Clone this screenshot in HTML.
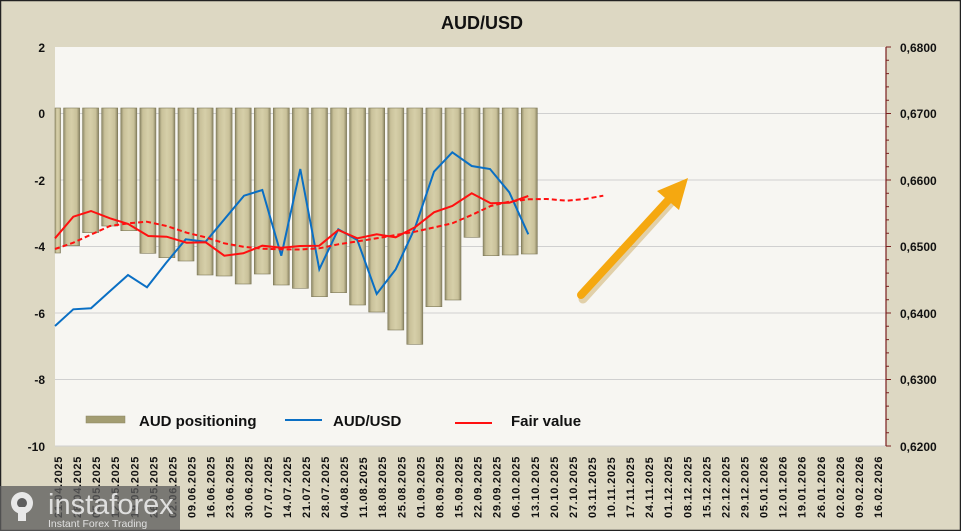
<!DOCTYPE html>
<html><head><meta charset="utf-8"><style>
html,body{margin:0;padding:0;background:#ddd8c3;}
svg{display:block;font-family:"Liberation Sans",sans-serif;}
</style></head><body>
<svg width="961" height="531" viewBox="0 0 961 531" xmlns="http://www.w3.org/2000/svg">
<defs>
<linearGradient id="bg" x1="0" x2="1" y1="0" y2="0">
<stop offset="0" stop-color="#8f8a68"/><stop offset="0.18" stop-color="#c9c19a"/><stop offset="0.5" stop-color="#d6cfa9"/><stop offset="0.82" stop-color="#c9c19a"/><stop offset="1" stop-color="#8a8463"/>
</linearGradient>
</defs>
<rect x="0" y="0" width="961" height="531" fill="#ddd8c3"/>
<rect x="0.5" y="0.5" width="960" height="530" fill="none" stroke="#222" stroke-width="1.5"/>
<text x="482" y="29" text-anchor="middle" font-size="18" font-weight="bold" fill="#111">AUD/USD</text>
<rect x="55" y="47" width="831" height="399" fill="#f7f6f2"/>
<g stroke="#d0d0d0" stroke-width="1">
<line x1="55" x2="886" y1="113.5" y2="113.5"/><line x1="55" x2="886" y1="180" y2="180"/><line x1="55" x2="886" y1="246.5" y2="246.5"/><line x1="55" x2="886" y1="313" y2="313"/><line x1="55" x2="886" y1="379.5" y2="379.5"/><line x1="55" x2="886" y1="446" y2="446"/>
</g>
<g font-size="12" font-weight="bold" fill="#111" text-anchor="end">
<text x="45" y="52">2</text><text x="45" y="118">0</text><text x="45" y="185">-2</text><text x="45" y="251">-4</text><text x="45" y="318">-6</text><text x="45" y="384">-8</text><text x="45" y="451">-10</text>
</g>
<g font-size="12" font-weight="bold" fill="#111">
<text x="900" y="52">0,6800</text><text x="900" y="118">0,6700</text><text x="900" y="185">0,6600</text><text x="900" y="251">0,6500</text><text x="900" y="318">0,6400</text><text x="900" y="384">0,6300</text><text x="900" y="451">0,6200</text>
</g>
<line x1="886" x2="886" y1="47" y2="446" stroke="#7a1f1f" stroke-width="1.2"/>
<path stroke="#7a1f1f" stroke-width="1" d="M886 47h5M886 60.3h3M886 73.6h3M886 86.9h3M886 100.2h3M886 113.5h5M886 126.8h3M886 140.1h3M886 153.4h3M886 166.7h3M886 180h5M886 193.3h3M886 206.6h3M886 219.9h3M886 233.2h3M886 246.5h5M886 259.8h3M886 273.1h3M886 286.4h3M886 299.7h3M886 313h5M886 326.3h3M886 339.6h3M886 352.9h3M886 366.2h3M886 379.5h5M886 392.8h3M886 406.1h3M886 419.4h3M886 432.7h3M886 446h5"/>
<g fill="url(#bg)" stroke="#7d7858" stroke-width="0.6">
<rect x="55" y="108" width="5.5" height="145"/>
<rect x="63.6" y="108" width="16" height="137.7"/>
<rect x="82.6" y="108" width="16" height="124.7"/>
<rect x="101.7" y="108" width="16" height="118"/>
<rect x="120.8" y="108" width="16" height="122.7"/>
<rect x="139.9" y="108" width="16" height="145.3"/>
<rect x="158.9" y="108" width="16" height="149.7"/>
<rect x="178" y="108" width="16" height="153"/>
<rect x="197.1" y="108" width="16" height="167"/>
<rect x="216.1" y="108" width="16" height="168"/>
<rect x="235.2" y="108" width="16" height="176"/>
<rect x="254.3" y="108" width="16" height="166"/>
<rect x="273.3" y="108" width="16" height="177"/>
<rect x="292.4" y="108" width="16" height="180.3"/>
<rect x="311.5" y="108" width="16" height="188.7"/>
<rect x="330.6" y="108" width="16" height="184.7"/>
<rect x="349.6" y="108" width="16" height="197"/>
<rect x="368.7" y="108" width="16" height="204"/>
<rect x="387.8" y="108" width="16" height="222"/>
<rect x="406.8" y="108" width="16" height="236.3"/>
<rect x="425.9" y="108" width="16" height="198.7"/>
<rect x="445" y="108" width="16" height="192"/>
<rect x="464" y="108" width="16" height="129.3"/>
<rect x="483.1" y="108" width="16" height="147.7"/>
<rect x="502.2" y="108" width="16" height="147"/>
<rect x="521.3" y="108" width="16" height="146"/>
</g>
<polyline fill="none" stroke="#0a6fc4" stroke-width="2" points="55,326 73.3,309.3 91,308.3 109,292 128,275 147,287.3 166,263 185.7,239.3 205.7,241.7 244,195.7 262.3,190 281.3,255.7 300.3,169 319.3,269.3 338.3,229.3 357.3,240 376.7,294 395.7,269.3 415,227.7 434,171.7 452.3,152.3 471.7,166 490,169 509.3,192.3 528.3,234.3"/>
<polyline fill="none" stroke="#ff1010" stroke-width="2" stroke-dasharray="5,3" points="55,249 73.3,242.7 91.7,234.3 110,226 128.3,223.3 146.7,221.7 166.7,226 186.7,232.7 205.7,237.3 224.3,243.3 243.3,246.7 262.3,248.7 281.3,249.3 300.3,249.5 319.3,248.3 338.3,244.3 376.7,238.3 415,231.7 452.3,223.3 471.7,215 490.7,206 509.3,201.7 528.3,199.3 546.7,199 566.7,200.7 585,199 603.3,195.7"/>
<polyline fill="none" stroke="#ff1010" stroke-width="2" points="55,238.3 73.3,216.7 91,211 110,218.3 128.3,224 148.3,236 166.7,236.7 186.7,242.7 205.7,242.3 224.3,255.7 243.3,253.3 262.3,245.7 281.3,247.7 300.3,246 319.3,245.7 338.3,230 357.3,238.3 376.7,234.3 395.7,237.3 415,227.3 434,212.3 452.3,206 471.7,193.3 490.7,203.3 509.3,202.7 528.3,196"/>
<g>
<line x1="581" y1="297" x2="671" y2="198" stroke="#b07800" stroke-opacity="0.3" stroke-width="9" stroke-linecap="round" transform="translate(2,2)"/>
<line x1="581" y1="295" x2="672" y2="196" stroke="#f5a810" stroke-width="8" stroke-linecap="round"/>
<polygon points="688,178 657,191 679,210" fill="#f5a810"/>
</g>
<rect x="86" y="416" width="39" height="7" fill="#a39d72" stroke="#8a8463" stroke-width="0.5"/>
<line x1="285" x2="322" y1="420" y2="420" stroke="#0a6fc4" stroke-width="2"/>
<line x1="455" x2="492" y1="423" y2="423" stroke="#ff1010" stroke-width="2"/>
<g font-size="15" font-weight="bold" fill="#111">
<text x="139" y="426">AUD positioning</text><text x="333" y="426">AUD/USD</text><text x="511" y="426">Fair value</text>
</g>
<g font-size="11" font-weight="bold" fill="#111" letter-spacing="0.7">
<text transform="translate(62,518) rotate(-90)">21.04.2025</text>
<text transform="translate(81.1,518) rotate(-90)">28.04.2025</text>
<text transform="translate(100.1,518) rotate(-90)">05.05.2025</text>
<text transform="translate(119.2,518) rotate(-90)">12.05.2025</text>
<text transform="translate(138.3,518) rotate(-90)">19.05.2025</text>
<text transform="translate(157.4,518) rotate(-90)">26.05.2025</text>
<text transform="translate(176.4,518) rotate(-90)">02.06.2025</text>
<text transform="translate(195.5,518) rotate(-90)">09.06.2025</text>
<text transform="translate(214.6,518) rotate(-90)">16.06.2025</text>
<text transform="translate(233.6,518) rotate(-90)">23.06.2025</text>
<text transform="translate(252.7,518) rotate(-90)">30.06.2025</text>
<text transform="translate(271.8,518) rotate(-90)">07.07.2025</text>
<text transform="translate(290.8,518) rotate(-90)">14.07.2025</text>
<text transform="translate(309.9,518) rotate(-90)">21.07.2025</text>
<text transform="translate(329,518) rotate(-90)">28.07.2025</text>
<text transform="translate(348.1,518) rotate(-90)">04.08.2025</text>
<text transform="translate(367.1,518) rotate(-90)">11.08.2025</text>
<text transform="translate(386.2,518) rotate(-90)">18.08.2025</text>
<text transform="translate(405.3,518) rotate(-90)">25.08.2025</text>
<text transform="translate(424.3,518) rotate(-90)">01.09.2025</text>
<text transform="translate(443.4,518) rotate(-90)">08.09.2025</text>
<text transform="translate(462.5,518) rotate(-90)">15.09.2025</text>
<text transform="translate(481.5,518) rotate(-90)">22.09.2025</text>
<text transform="translate(500.6,518) rotate(-90)">29.09.2025</text>
<text transform="translate(519.7,518) rotate(-90)">06.10.2025</text>
<text transform="translate(538.8,518) rotate(-90)">13.10.2025</text>
<text transform="translate(557.8,518) rotate(-90)">20.10.2025</text>
<text transform="translate(576.9,518) rotate(-90)">27.10.2025</text>
<text transform="translate(596,518) rotate(-90)">03.11.2025</text>
<text transform="translate(615,518) rotate(-90)">10.11.2025</text>
<text transform="translate(634.1,518) rotate(-90)">17.11.2025</text>
<text transform="translate(653.2,518) rotate(-90)">24.11.2025</text>
<text transform="translate(672.2,518) rotate(-90)">01.12.2025</text>
<text transform="translate(691.3,518) rotate(-90)">08.12.2025</text>
<text transform="translate(710.4,518) rotate(-90)">15.12.2025</text>
<text transform="translate(729.5,518) rotate(-90)">22.12.2025</text>
<text transform="translate(748.5,518) rotate(-90)">29.12.2025</text>
<text transform="translate(767.6,518) rotate(-90)">05.01.2026</text>
<text transform="translate(786.7,518) rotate(-90)">12.01.2026</text>
<text transform="translate(805.7,518) rotate(-90)">19.01.2026</text>
<text transform="translate(824.8,518) rotate(-90)">26.01.2026</text>
<text transform="translate(843.9,518) rotate(-90)">02.02.2026</text>
<text transform="translate(862.9,518) rotate(-90)">09.02.2026</text>
<text transform="translate(882,518) rotate(-90)">16.02.2026</text>
</g>
<rect x="0" y="486" width="180" height="45" fill="#5e5e5e" fill-opacity="0.78"/>
<g fill="#e8e8e8">
<circle cx="22" cy="503" r="11"/>
<circle cx="22" cy="503" r="5" fill="#5e5e5e"/>
<rect x="18" y="507" width="8" height="14"/>
</g>
<text x="48" y="514" font-size="29" fill="#eaeaea" fill-opacity="0.9">instaforex</text>
<text x="48" y="527" font-size="10.5" fill="#e0e0e0">Instant Forex Trading</text>
</svg>
</body></html>
